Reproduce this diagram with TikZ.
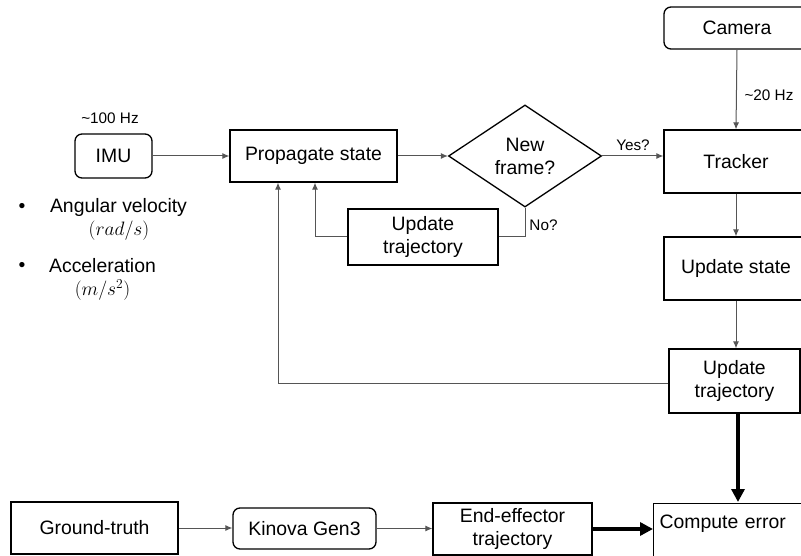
\documentclass[tikz,border=0pt]{standalone}
\usepackage{fix-cm}
\usepackage{fontspec}
\setmainfont{Liberation Sans}
\usetikzlibrary{shapes.geometric,arrows.meta}
\definecolor{conn}{HTML}{555555}
\tikzset{
  box/.style={draw=black, line width=1.3pt, fill=white, inner sep=0pt, align=center,
    font=\fontsize{19.4}{23}\selectfont},
  rbox/.style={box, rounded corners=7pt},
  dia/.style={draw=black, line width=1.3pt, fill=white, diamond, inner sep=0pt, aspect=1.5, align=center,
    font=\fontsize{19.4}{23}\selectfont},
  conline/.style={draw=conn, line width=1pt},
  arr/.style={conline, -{Latex[length=7pt,width=6pt]}},
  thickarr/.style={draw=black, line width=4.5pt, -{Triangle[length=13pt,width=13pt]}},
  small/.style={font=\fontsize{15.3}{18}\selectfont, inner sep=0pt},
  plain/.style={font=\fontsize{19.4}{23}\selectfont, inner sep=0pt},
}
\begin{document}
\begin{tikzpicture}[x=1pt,y=-1pt]
\useasboundingbox (0,0) rectangle (801,556);
\clip (0,0) rectangle (801,556);
\fill[white] (0,0) rectangle (801,556);

% nodes
\node[rbox, minimum width=146pt, minimum height=42pt] (cam) at (737,28) {Camera};
\node[box, minimum width=144pt, minimum height=63pt] (trk) at (736,161.5) {Tracker};
\node[box, minimum width=144pt, minimum height=63pt] (ust) at (736,268.5) {Update state};
\node[box, minimum width=131pt, minimum height=64pt] (utr) at (734.5,381) {Update\\trajectory};
\node[box, anchor=north west, align=left, text width=170pt, inner xsep=6pt,
      text height=25pt, text depth=42pt] (cmp) at (653,503) {Compute error};

\node[dia, minimum width=153pt, minimum height=102pt] (ds) at (525,156) {New\\frame?};
\node[box, minimum width=167pt, minimum height=52pt] (prop) at (313.5,156) {Propagate state};
\node[box, minimum width=150pt, minimum height=56pt] (utm) at (423,237) {Update\\trajectory};
\node[rbox, minimum width=77pt, minimum height=44pt] (imu) at (113.5,156) {IMU};

\node[box, minimum width=167pt, minimum height=52pt] (gt) at (94.5,528) {Ground-truth};
\node[rbox, minimum width=143pt, minimum height=41pt] (kin) at (304.5,528.5) {Kinova Gen3};
\node[box, minimum width=159pt, minimum height=52pt] (ee) at (512.5,529) {End-effector\\trajectory};

% labels
\node[small] (l100) at (110,118) {\textasciitilde100 Hz};
\node[small] (l20) at (769,95) {\textasciitilde20 Hz};
\node[small] (lyes) at (633,145) {Yes?};
\node[small] (lno) at (543.5,225) {No?};

\node[plain] (b1) at (22,208) {\textbullet};
\node[plain] (av) at (118.5,207) {Angular velocity};
\node[plain] (avu) at (119,231) {$(rad/s)$};
\node[plain] (b2) at (22,267) {\textbullet};
\node[plain] (acc) at (102.5,266) {Acceleration};
\node[plain] (accu) at (102.5,290) {$(m/s^2)$};

% connectors
\coordinate (c1) at (278,383);
\coordinate (c2) at (315,237);
\coordinate (c3) at (ds.south |- utm.east);

\draw[arr] (imu.east) -- (prop.west);
\draw[arr] (prop.east) -- (ds.west);
\draw[arr] (ds.east) -- (trk.west |- ds.east);
\draw[arr] (cam.south) -- (trk.north);
\draw[conline] (ds.south) -- (c3) -- (utm.east);
\draw[arr] (utm.west) -- (c2) -- (c2 |- prop.south);
\draw[arr] (utr.west |- c1) -- (c1) -- (c1 |- prop.south);
\draw[arr] (trk.south) -- (ust.north);
\draw[arr] (ust.south) -- (ust.south |- utr.north);
\draw[thickarr] (utr.south -| 738,0) -- (738,502);
\draw[arr] (gt.east) -- (kin.west |- gt.east);
\draw[arr] (kin.east) -- (ee.west |- kin.east);
\draw[thickarr] (ee.east) -- (cmp.west |- ee.east);
\end{tikzpicture}
\end{document}
